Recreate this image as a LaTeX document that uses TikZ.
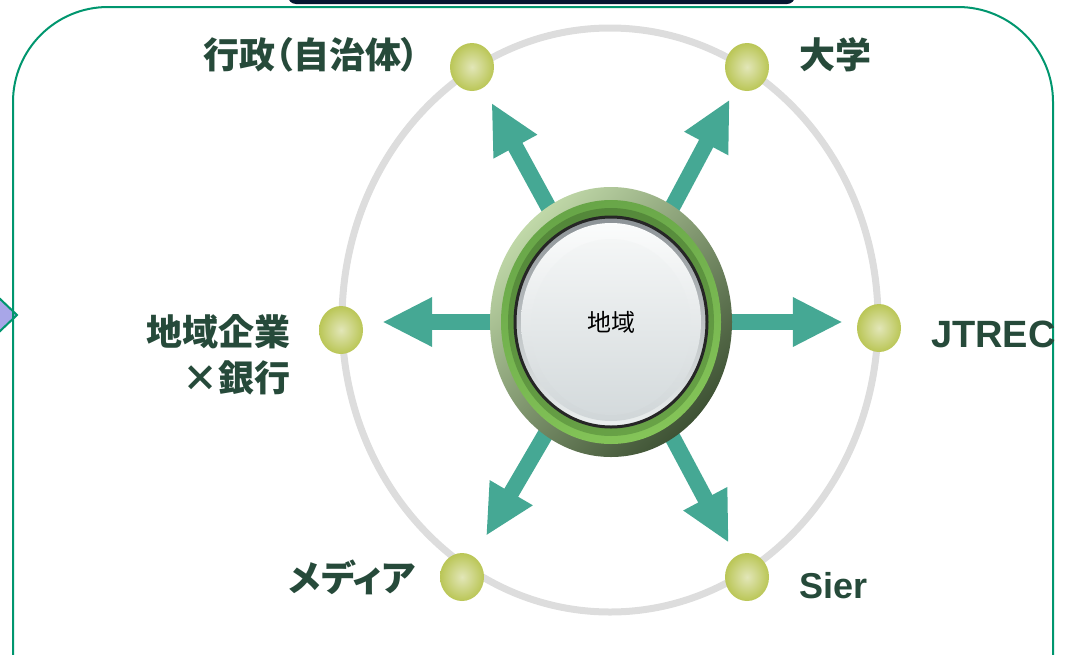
\documentclass[tikz,border=0pt]{standalone}
\usepackage{fontspec}
\setmainfont{Liberation Sans}
\newfontfamily\jpfont{Noto Sans CJK JP}[RawFeature=+palt]
\usetikzlibrary{shapes.geometric, arrows.meta, positioning}
\pgfdeclarelayer{background}
\pgfsetlayers{background,main}

\definecolor{framegreen}{RGB}{0,150,110}
\definecolor{navybar}{RGB}{5,22,48}
\definecolor{lavender}{RGB}{168,166,232}
\definecolor{orbitgray}{RGB}{221,221,221}
\definecolor{spokegreen}{RGB}{69,168,148}
\definecolor{lblgreen}{RGB}{38,74,58}
\definecolor{dotlight}{RGB}{226,230,184}
\definecolor{dotdark}{RGB}{186,198,86}
\definecolor{ringlight}{RGB}{192,216,168}
\definecolor{ringmid}{RGB}{108,160,76}
\definecolor{ringdark}{RGB}{62,82,52}
\definecolor{bandtop}{RGB}{104,166,72}
\definecolor{bandbot}{RGB}{132,196,88}
\definecolor{innertop}{RGB}{84,136,58}
\definecolor{innerbot}{RGB}{104,162,70}
\definecolor{rimtop}{RGB}{140,146,150}
\definecolor{rimbot}{RGB}{236,240,240}
\definecolor{facetop}{RGB}{251,252,252}
\definecolor{facebot}{RGB}{208,214,216}
\definecolor{glosstop}{RGB}{244,246,246}
\definecolor{glossbot}{RGB}{212,218,220}
\tikzset{
    hub/.style={ellipse, minimum width=44pt, minimum height=48pt, inner sep=0pt, inner color=dotlight, outer color=dotdark},
    lbl/.style={font=\jpfont\bfseries\fontsize{36}{46}\selectfont, text=lblgreen, inner sep=0pt},
    latin/.style={font=\bfseries\fontsize{36}{40}\selectfont, text=lblgreen, inner sep=0pt},
    spoke/.style={draw=spokegreen, line width=16pt, -{Triangle[length=50pt,width=46pt]}}
}

\begin{document}
\begin{tikzpicture}[x=1pt, y=-1pt,
        hubring/.style={ellipse, minimum width=242pt, minimum height=270pt, inner sep=0pt, top color=ringlight, middle color=ringmid, bottom color=ringdark, shading angle=45},
        core/.style={font=\jpfont\fontsize{24}{26}\selectfont, text=black, inner sep=0pt}
    ]
    \useasboundingbox (0,0) rectangle (1068,654);

    % frame, title bar and side marker
    \fill[navybar, rounded corners=8pt] (288,-30) rectangle (795,4);
    \filldraw[fill=lavender, draw=framegreen, line width=2pt] (-21,315) -- (-2,297) -- (17,315) -- (-2,333) -- cycle;
    \draw[framegreen, line width=2pt, rounded corners=95pt] (13,7) rectangle (1053,760);

    % orbit
    \draw[orbitgray, line width=7pt] (610,320) ellipse [x radius=268pt, y radius=292pt];

    % hub in the middle
    \node[hubring] (chiiki) at (611,322) {};
    \shade[top color=bandtop, bottom color=bandbot, shading angle=20] (chiiki.center) ellipse [x radius=110pt, y radius=122pt];
    \shade[top color=innertop, bottom color=innerbot, shading angle=20] (chiiki.center) ellipse [x radius=103pt, y radius=114pt];
    \shade[draw=black!85, line width=3pt, top color=rimtop, bottom color=rimbot] (chiiki.center) ellipse [x radius=96pt, y radius=105pt];
    \shade[top color=facetop, bottom color=facebot] (chiiki.center) ellipse [x radius=90pt, y radius=99pt];
    \shade[top color=glosstop, bottom color=glossbot] ([yshift=-5pt]chiiki.center) ellipse [x radius=80pt, y radius=88pt];
    \node[core] (core) at (chiiki.center) {地域};

    % partners on the orbit
    \node[hub] (gyouseidot) at (472,67) {};
    \node[hub] (daigakudot) at (747,67) {};
    \node[hub] (kigyoudot) at (341,330) {};
    \node[hub] (jtrecdot) at (879,328) {};
    \node[hub] (mediadot) at (462,577) {};
    \node[hub] (sierdot) at (747,577) {};

    \node[lbl] (gyousei) at (311,55) {行政（自治体）};
    \node[lbl] (daigaku) at (835,55) {大学};
    \node[lbl, align=right, anchor=east] (kigyou) at (291,355) {地域企業\\×銀行};
    \node[latin, anchor=west, font=\bfseries\fontsize{38}{40}\selectfont] (jtrec) at (931,334) {JTREC};
    \node[lbl] (media) at (352,577) {メディア};
    \node[latin, anchor=west] (sier) at (799,586) {Sier};

    % spokes, behind the hub
    \begin{pgfonlayer}{background}
        \draw[spoke, shorten >=17pt] (chiiki.center) -- (gyouseidot);
        \draw[spoke, shorten >=13pt] (chiiki.center) -- (daigakudot);
        \draw[spoke, shorten >=19pt] (chiiki.center) -- (chiiki.center -| kigyoudot.east);
        \draw[spoke, shorten >=14pt] (chiiki.center) -- (chiiki.center -| jtrecdot.west);
        \draw[spoke, shorten >=24pt] (chiiki.center) -- (mediadot);
        \draw[spoke, shorten >=15pt] (chiiki.center) -- (sierdot);
    \end{pgfonlayer}
\end{tikzpicture}
\end{document}
